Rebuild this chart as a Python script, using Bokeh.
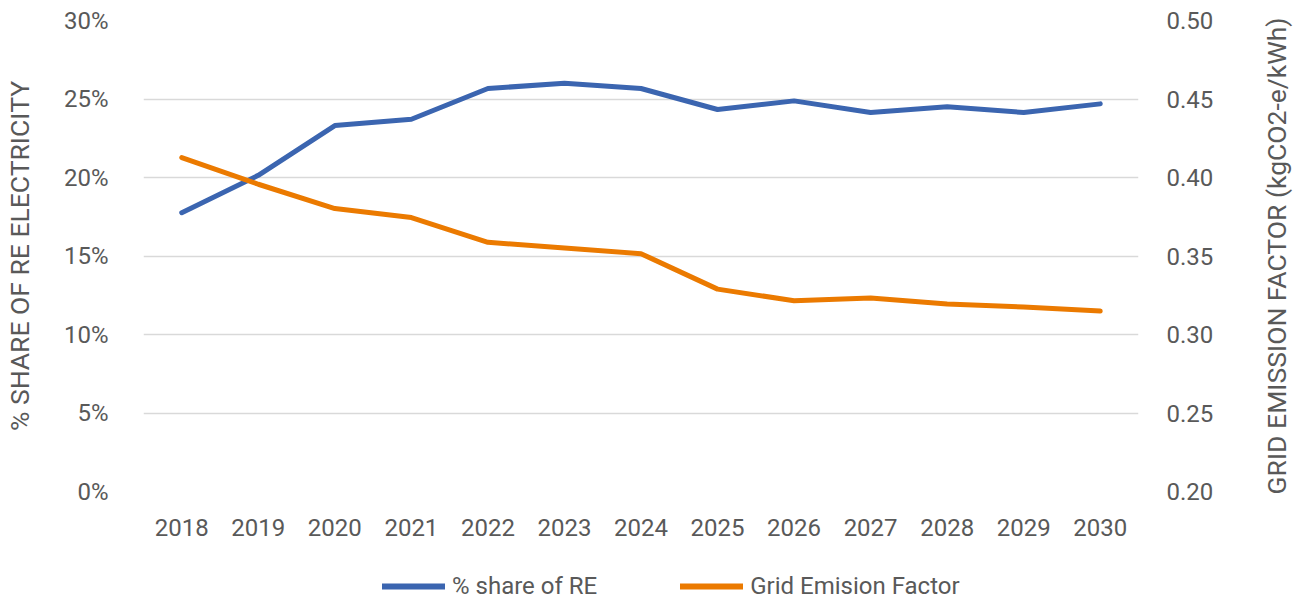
import math
from bokeh.plotting import figure
from bokeh.layouts import column, row
from bokeh.models import (Range1d, LinearAxis, FixedTicker, NumeralTickFormatter,
                          Legend, LegendItem, FactorRange, ColumnDataSource, Title)
from bokeh.embed import file_html
from bokeh.resources import INLINE

years = ["2018", "2019", "2020", "2021", "2022", "2023", "2024",
         "2025", "2026", "2027", "2028", "2029", "2030"]
re_share = [0.1776, 0.2014, 0.2331, 0.2371, 0.2567, 0.2600, 0.2567,
            0.2433, 0.2488, 0.2414, 0.2450, 0.2414, 0.2469]
grid_ef = [0.4127, 0.3957, 0.3802, 0.3745, 0.3587, 0.3551, 0.3515,
           0.3289, 0.3215, 0.3232, 0.3194, 0.3175, 0.3149]
left_ticks = [0, 0.05, 0.10, 0.15, 0.20, 0.25, 0.30]
right_ticks = [0.20, 0.25, 0.30, 0.35, 0.40, 0.45, 0.50]
series_names = ["% share of RE", "Grid Emision Factor"]
left_title = "% SHARE OF RE ELECTRICITY"
right_title = "GRID EMISSION FACTOR (kgCO2-e/kWh)"

FONT = "Roboto"
TXT = "#595959"
BLUE = "#3B65B0"
ORANGE = "#EB7A00"
TICK_FS = "24px"
TITLE_FS = "26.5px"

src = ColumnDataSource(dict(year=years, re=re_share, ef=grid_ef))

MAIN_H = 555
MAIN_W = 1240
p = figure(width=MAIN_W, height=MAIN_H, x_range=FactorRange(*years),
           y_range=Range1d(0, 0.30), output_backend="svg", toolbar_location=None,
           min_border_left=136, min_border_right=MAIN_W - 1138, min_border_top=20,
           min_border_bottom=MAIN_H - 491)
p.outline_line_color = None
p.extra_y_ranges = {"ef": Range1d(0.20, 0.50)}

ya = p.yaxis[0]
ya.ticker = FixedTicker(ticks=left_ticks)
ya.formatter = NumeralTickFormatter(format="0%")
ya.axis_label = left_title

xa = p.xaxis[0]

ra = LinearAxis(y_range_name="ef", ticker=FixedTicker(ticks=right_ticks),
                formatter=NumeralTickFormatter(format="0.00"))
p.add_layout(ra, "right")

for ax in (ya, xa, ra):
    ax.axis_line_color = None
    ax.major_tick_line_color = None
    ax.minor_tick_line_color = None
    ax.major_label_text_font = FONT
    ax.major_label_text_font_size = TICK_FS
    ax.major_label_text_color = TXT
    ax.axis_label_text_font = FONT
    ax.axis_label_text_font_size = TITLE_FS
    ax.axis_label_text_color = TXT
    ax.axis_label_text_font_style = "normal"

ya.major_label_standoff = 29
ya.axis_label_standoff = 26
ra.major_label_standoff = 22
xa.major_label_standoff = 21

p.xgrid.grid_line_color = None
p.ygrid.grid_line_color = "#D9D9D9"
p.ygrid.grid_line_width = 1.5

p.line("year", "re", source=src, line_color=BLUE, line_width=5,
       line_cap="round", line_join="round")
p.line("year", "ef", source=src, y_range_name="ef", line_color=ORANGE,
       line_width=5, line_cap="round", line_join="round")

# narrow strip at the right carrying the secondary-axis title (reads bottom-to-top)
STRIP_W = 1301 - MAIN_W
strip = figure(width=STRIP_W, height=MAIN_H, output_backend="svg",
               toolbar_location=None, x_axis_type=None, y_axis_type=None,
               x_range=Range1d(0, 1), y_range=Range1d(0, 1),
               min_border_left=51, min_border_right=0, min_border_top=20,
               min_border_bottom=MAIN_H - 491)
strip.grid.visible = False
strip.outline_line_color = None
strip.add_layout(Title(text=right_title, align="center", text_font=FONT,
                       text_font_size=TITLE_FS, text_color=TXT,
                       text_font_style="normal", standoff=0, offset=0), "left")

# legend strip below the chart
LEG_H = 600 - MAIN_H
lp = figure(width=1301, height=LEG_H, output_backend="svg", toolbar_location=None,
            x_range=Range1d(0, 1), y_range=Range1d(0, 1),
            x_axis_type=None, y_axis_type=None,
            min_border_left=0, min_border_right=0, min_border_top=0,
            min_border_bottom=0)
lp.grid.visible = False
lp.outline_line_color = None
blank = ColumnDataSource(dict(x=[float("nan")], y=[float("nan")]))
l1 = lp.line("x", "y", source=blank, line_color=BLUE, line_width=6, line_cap="round")
l2 = lp.line("x", "y", source=blank, line_color=ORANGE, line_width=6, line_cap="round")

legend = Legend(items=[LegendItem(label=series_names[0], renderers=[l1]),
                       LegendItem(label=series_names[1], renderers=[l2])],
                orientation="horizontal", location=(382, 0),
                glyph_width=63, glyph_height=24, label_standoff=7, spacing=83,
                padding=0, margin=0, border_line_color=None,
                background_fill_alpha=0,
                label_text_font=FONT, label_text_font_size=TICK_FS,
                label_text_color=TXT)
lp.add_layout(legend, "center")

layout = column(row(p, strip, spacing=0), lp, spacing=0)
open("out.html", "w").write(file_html(layout, INLINE))
